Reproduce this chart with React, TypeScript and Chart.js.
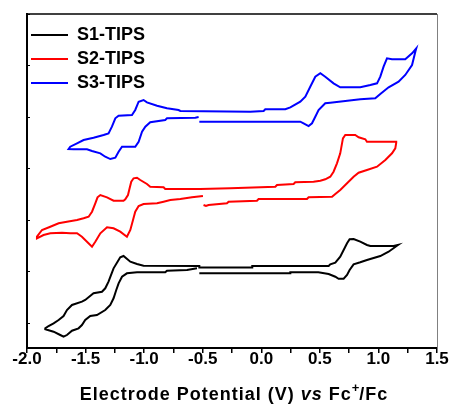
import React, { useEffect, useRef } from 'react';
import { Chart, registerables } from 'chart.js';

Chart.register(...registerables);

const seriesNames = ['S1-TIPS', 'S2-TIPS', 'S3-TIPS'];
const seriesColors = ['#000000', '#ff0000', '#0000ff'];

// Potential (V vs Fc+/Fc) and current (arbitrary, stacked)
const s1Potential = [-0.529,0.248,0.248,0.487,0.575,0.632,0.660,0.703,0.732,0.754,
  0.788,0.845,0.902,1.016,1.087,1.158,1.167,1.129,0.931,0.902,
  0.845,0.788,0.754,0.732,0.703,0.674,0.632,0.589,0.575,-0.077,
  -0.077,-0.529,-0.529,-1.005,-1.061,-1.118,-1.176,-1.204,-1.227,-1.261,
  -1.283,-1.304,-1.332,-1.360,-1.432,-1.503,-1.531,-1.616,-1.659,-1.688,
  -1.730,-1.773,-1.816,-1.844,-1.844,-1.773,-1.716,-1.688,-1.659,-1.616,
  -1.560,-1.531,-1.503,-1.460,-1.403,-1.332,-1.289,-1.261,-1.238,-1.218,
  -1.189,-1.147,-1.061,-0.820,-0.805,-0.634,-0.549];
const s1Current = [0.965,0.965,0.984,0.984,0.951,0.899,0.860,0.860,0.932,1.029,
  1.140,1.179,1.223,1.301,1.384,1.501,1.515,1.495,1.495,1.515,
  1.579,1.631,1.625,1.548,1.417,1.287,1.171,1.140,1.107,1.107,
  1.078,1.078,1.107,1.113,1.146,1.190,1.301,1.276,1.190,1.062,
  0.932,0.802,0.674,0.608,0.577,0.447,0.414,0.350,0.252,0.136,
  0.058,-0.006,-0.058,-0.103,-0.122,-0.169,-0.233,-0.266,-0.233,-0.150,
  -0.103,-0.039,0.058,0.136,0.155,0.252,0.350,0.480,0.641,0.771,
  0.899,0.965,0.984,0.984,1.016,1.029,1.062];

const s2Potential = [-0.493,-0.472,-0.450,-0.293,-0.279,-0.037,-0.023,0.390,0.404,0.604,
  0.632,0.674,0.732,0.788,0.831,0.902,0.988,1.059,1.116,1.144,
  1.152,1.152,0.902,0.888,0.831,0.802,0.717,0.697,0.674,0.646,
  0.617,0.589,0.546,0.504,0.446,0.290,0.276,0.134,0.120,-0.265,
  -0.521,-0.820,-0.834,-0.948,-0.976,-1.033,-1.061,-1.090,-1.110,-1.124,
  -1.138,-1.161,-1.176,-1.261,-1.317,-1.374,-1.398,-1.417,-1.445,-1.474,
  -1.517,-1.573,-1.659,-1.730,-1.801,-1.872,-1.915,-1.915,-1.859,-1.801,
  -1.701,-1.631,-1.573,-1.531,-1.488,-1.445,-1.417,-1.374,-1.317,-1.261,
  -1.204,-1.147,-1.118,-1.095,-1.076,-1.047,-1.005,-0.890,-0.834,-0.777,
  -0.691,-0.592,-0.498];
const s2Current = [2.291,2.272,2.291,2.324,2.355,2.375,2.408,2.408,2.441,2.452,
  2.505,2.583,2.713,2.841,2.918,2.971,3.035,3.165,3.295,3.392,
  3.501,3.520,3.520,3.567,3.606,3.650,3.650,3.586,3.295,3.101,
  2.938,2.841,2.790,2.763,2.744,2.732,2.699,2.680,2.647,2.616,
  2.602,2.602,2.635,2.647,2.699,2.777,2.821,2.810,2.744,2.616,
  2.485,2.402,2.375,2.375,2.441,2.485,2.441,2.324,2.161,2.064,
  2.033,2.000,1.967,1.936,1.870,1.806,1.676,1.645,1.709,1.742,
  1.753,1.742,1.742,1.676,1.579,1.482,1.579,1.742,1.858,1.839,
  1.773,1.676,1.806,2.000,2.161,2.272,2.311,2.324,2.355,2.388,
  2.408,2.441,2.466];

const s3Potential = [-0.529,-0.165,0.333,0.361,0.404,0.433,0.461,0.489,0.546,0.589,
  0.845,0.973,1.016,1.087,1.172,1.229,1.287,1.315,1.323,1.287,
  1.229,1.116,1.073,1.044,1.016,0.988,0.931,0.845,0.674,0.617,
  0.546,0.504,0.461,0.418,0.376,0.333,0.248,0.205,0.034,0.020,
  -0.094,-0.691,-0.706,-0.805,-0.890,-0.976,-1.005,-1.047,-1.076,-1.104,
  -1.218,-1.246,-1.275,-1.304,-1.346,-1.432,-1.517,-1.573,-1.631,-1.645,
  -1.602,-1.488,-1.445,-1.374,-1.332,-1.289,-1.246,-1.218,-1.189,-1.076,
  -1.047,-1.018,-0.990,-0.948,-0.820,-0.805,-0.563,-0.535];
const s3Current = [3.909,3.909,3.909,3.878,3.825,3.878,4.006,4.136,4.266,4.278,
  4.344,4.363,4.447,4.577,4.685,4.816,5.010,5.268,5.334,5.237,
  5.120,5.120,5.140,4.977,4.783,4.654,4.621,4.577,4.577,4.654,
  4.783,4.849,4.783,4.588,4.394,4.297,4.188,4.150,4.150,4.117,
  4.103,4.117,4.136,4.169,4.219,4.285,4.330,4.297,4.136,4.039,
  4.025,3.975,3.812,3.683,3.650,3.598,3.553,3.489,3.423,3.379,
  3.373,3.373,3.340,3.295,3.229,3.184,3.210,3.326,3.423,3.423,
  3.520,3.715,3.812,3.897,3.942,3.975,3.986,4.000];

const xTickValues = [-2.0,-1.75,-1.5,-1.25,-1.0,-0.75,-0.5,-0.25,0.0,0.25,0.5,0.75,1.0,1.25,1.5];
const xTickLabels = ['-2.0','','-1.5','','-1.0','','-0.5','','0.0','','0.5','','1.0','','1.5'];
const yTickValues = [0, 1, 2, 3, 4, 5, 6];

const xTitleParts = [
  { text: 'Electrode Potential (V) ', italic: false, sup: false },
  { text: 'vs', italic: true, sup: false },
  { text: ' Fc', italic: false, sup: false },
  { text: '+', italic: false, sup: true },
  { text: '/Fc', italic: false, sup: false },
];

const FONT = '"Liberation Sans", Arial, sans-serif';

function zip(xs: number[], ys: number[]) {
  return xs.map((x, i) => ({ x, y: ys[i] }));
}

const framePlugin = {
  id: 'frame',
  afterDraw(chart: any) {
    const { ctx, chartArea } = chart;
    ctx.save();
    ctx.lineWidth = 1.5;
    ctx.strokeStyle = '#000000';
    ctx.beginPath();
    ctx.moveTo(chartArea.left, chartArea.top);
    ctx.lineTo(chartArea.right, chartArea.top);
    ctx.stroke();
    ctx.strokeStyle = '#808080';
    ctx.lineWidth = 1;
    ctx.beginPath();
    ctx.moveTo(chartArea.right + 0.5, chartArea.top);
    ctx.lineTo(chartArea.right + 0.5, chartArea.bottom);
    ctx.stroke();
    ctx.restore();
  },
};

const xTitlePlugin = {
  id: 'xTitle',
  afterDraw(chart: any) {
    const { ctx, chartArea } = chart;
    ctx.save();
    const fontFor = (p: any) =>
      `${p.italic ? 'italic ' : ''}bold ${p.sup ? 13 : 18}px ${FONT}`;
    const spacing = (p: any) => (p.sup ? '0px' : '1px');
    let total = 0;
    const widths = xTitleParts.map((p) => {
      ctx.font = fontFor(p);
      (ctx as any).letterSpacing = spacing(p);
      const w = ctx.measureText(p.text).width;
      total += w;
      return w;
    });
    let x = (chartArea.left + chartArea.right) / 2 - total / 2 + 2;
    const baseline = 400;
    ctx.fillStyle = '#000000';
    ctx.textBaseline = 'alphabetic';
    ctx.textAlign = 'left';
    xTitleParts.forEach((p, i) => {
      ctx.font = fontFor(p);
      (ctx as any).letterSpacing = spacing(p);
      ctx.fillText(p.text, x, p.sup ? baseline - 8 : baseline);
      x += widths[i];
    });
    ctx.restore();
  },
};

const legendShiftPlugin = {
  id: 'legendShift',
  beforeDraw(chart: any) {
    const lg = chart.legend;
    if (lg) {
      lg.left = chart.chartArea.left - 2;
      lg.top = chart.chartArea.top + 6;
    }
  },
};

export default function App() {
  const ref = useRef<HTMLCanvasElement | null>(null);

  useEffect(() => {
    if (!ref.current) return;
    Chart.defaults.font.family = FONT;
    const seriesData = [
      zip(s1Potential, s1Current),
      zip(s2Potential, s2Current),
      zip(s3Potential, s3Current),
    ];
    const chart = new Chart(ref.current, {
      type: 'scatter',
      data: {
        datasets: seriesNames.map((name, i) => ({
          label: name,
          data: seriesData[i],
          showLine: true,
          borderColor: seriesColors[i],
          backgroundColor: seriesColors[i],
          borderWidth: 2,
          pointRadius: 0,
          pointHoverRadius: 0,
          tension: 0,
          fill: false,
        })),
      },
      options: {
        responsive: false,
        animation: false,
        layout: { padding: { left: 0, top: 14, right: 18, bottom: 0 } },
        plugins: {
          tooltip: { enabled: false },
          legend: {
            position: 'chartArea' as any,
            align: 'start',
            labels: {
              boxWidth: 37,
              boxHeight: 2,
              padding: 6,
              color: '#000000',
              font: { family: FONT, size: 18, weight: 'bold' },
              generateLabels: (c: any) =>
                c.data.datasets.map((d: any, i: number) => ({
                  text: d.label,
                  fillStyle: seriesColors[i],
                  strokeStyle: seriesColors[i],
                  lineWidth: 0,
                  hidden: false,
                  datasetIndex: i,
                  fontColor: '#000000',
                })),
            },
          },
        },
        scales: {
          x: {
            type: 'linear',
            min: -2.0,
            max: 1.5,
            afterFit: (s: any) => { s.height = 57; },
            afterBuildTicks: (s: any) => { s.ticks = xTickValues.map((v) => ({ value: v })); },
            border: { display: true, color: '#000000', width: 2 },
            grid: {
              display: true,
              drawOnChartArea: false,
              drawTicks: true,
              tickLength: 5,
              color: '#000000',
              lineWidth: 1.5,
            },
            ticks: {
              autoSkip: false,
              maxRotation: 0,
              padding: -4,
              color: '#000000',
              font: { family: FONT, size: 17, weight: 'bold' },
              callback: (_v: any, idx: number) => xTickLabels[idx],
            },
          },
          y: {
            type: 'linear',
            min: -0.485,
            max: 6.0,
            afterFit: (s: any) => { s.width = 27; },
            afterBuildTicks: (s: any) => { s.ticks = yTickValues.map((v) => ({ value: v })); },
            border: { display: true, color: '#000000', width: 2 },
            grid: {
              display: true,
              drawOnChartArea: false,
              drawTicks: true,
              tickLength: -3,
              color: '#000000',
              lineWidth: 1,
            },
            ticks: { display: false },
          },
        },
      },
      plugins: [framePlugin, xTitlePlugin, legendShiftPlugin],
    });
    return () => chart.destroy();
  }, []);

  return (
    <div style={{ position: 'absolute', left: 0, top: 0, width: 455, height: 405, background: '#ffffff' }}>
      <canvas ref={ref} width={455} height={405} style={{ display: 'block' }} />
    </div>
  );
}
